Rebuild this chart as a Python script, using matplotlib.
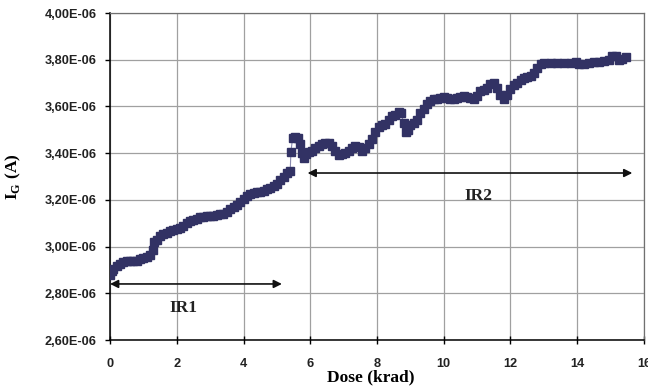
import numpy as np
import matplotlib
matplotlib.use("Agg")
import matplotlib.pyplot as plt
from matplotlib.ticker import FuncFormatter, MultipleLocator

# Gate current vs. accumulated dose (values in units of 1e-6 A)
dose = [
    0.00, 0.05, 0.10, 0.20, 0.30, 0.40, 0.50, 0.60, 0.70, 0.80, 0.90, 1.00,
    1.10, 1.20, 1.28, 1.33, 1.40, 1.50, 1.60, 1.70, 1.80, 1.90, 2.00, 2.10,
    2.20, 2.30, 2.40, 2.50, 2.60, 2.70, 2.80, 2.90, 3.00, 3.10, 3.20, 3.30,
    3.40, 3.50, 3.60, 3.70, 3.80, 3.90, 4.00, 4.10, 4.20, 4.30, 4.40, 4.50,
    4.60, 4.70, 4.80, 4.90, 5.00, 5.10, 5.20, 5.30, 5.40, 5.42, 5.47, 5.55,
    5.62, 5.68, 5.74, 5.80, 5.88, 5.95, 6.05, 6.15, 6.25, 6.35, 6.45, 6.55,
    6.65, 6.75, 6.85, 6.95, 7.05, 7.15, 7.25, 7.35, 7.45, 7.55, 7.65, 7.75,
    7.85, 7.95, 8.05, 8.15, 8.25, 8.35, 8.45, 8.55, 8.65, 8.72, 8.80, 8.86,
    8.92, 9.00, 9.10, 9.20, 9.30, 9.40, 9.50, 9.60, 9.70, 9.80, 9.90, 10.00,
    10.10, 10.20, 10.30, 10.40, 10.50, 10.60, 10.70, 10.80, 10.90, 11.00, 11.10, 11.20,
    11.30, 11.40, 11.50, 11.60, 11.70, 11.80, 11.90, 12.00, 12.10, 12.20, 12.30, 12.40,
    12.50, 12.60, 12.70, 12.80, 12.90, 13.00, 13.20, 13.40, 13.60, 13.80, 13.95, 14.05,
    14.20, 14.35, 14.50, 14.65, 14.80, 14.95, 15.05, 15.15, 15.25, 15.35, 15.45,
]
ig_uA = [
    2.880, 2.895, 2.905, 2.915, 2.925, 2.935, 2.940, 2.940, 2.940, 2.940, 2.945, 2.950,
    2.955, 2.965, 2.985, 3.020, 3.030, 3.045, 3.055, 3.060, 3.065, 3.070, 3.075, 3.080,
    3.090, 3.100, 3.110, 3.115, 3.120, 3.125, 3.128, 3.130, 3.130, 3.132, 3.135, 3.138,
    3.140, 3.150, 3.160, 3.170, 3.180, 3.190, 3.205, 3.215, 3.225, 3.230, 3.235, 3.235,
    3.240, 3.245, 3.250, 3.260, 3.270, 3.285, 3.300, 3.315, 3.325, 3.405, 3.465, 3.470,
    3.465, 3.440, 3.400, 3.380, 3.395, 3.405, 3.410, 3.420, 3.430, 3.440, 3.445, 3.445,
    3.430, 3.410, 3.390, 3.395, 3.400, 3.410, 3.420, 3.430, 3.425, 3.410, 3.420, 3.440,
    3.460, 3.490, 3.510, 3.520, 3.525, 3.540, 3.560, 3.565, 3.575, 3.570, 3.530, 3.490,
    3.500, 3.520, 3.530, 3.540, 3.570, 3.590, 3.610, 3.625, 3.630, 3.630, 3.635, 3.640,
    3.635, 3.630, 3.630, 3.635, 3.640, 3.645, 3.640, 3.635, 3.630, 3.645, 3.665, 3.670,
    3.680, 3.695, 3.700, 3.680, 3.650, 3.630, 3.650, 3.675, 3.690, 3.700, 3.715, 3.720,
    3.725, 3.730, 3.745, 3.765, 3.780, 3.785, 3.785, 3.785, 3.785, 3.785, 3.790, 3.780,
    3.780, 3.785, 3.790, 3.790, 3.795, 3.800, 3.815, 3.815, 3.800, 3.805, 3.810,
]

# Irradiation regions: (start dose, end dose, arrow level, label, label position)
ir1 = (0.0, 5.15, 2.84e-6, "IR1", 2.2, 2.735e-6)
ir2 = (5.92, 15.65, 3.315e-6, "IR2", 11.05, 3.215e-6)

plt.rcParams["mathtext.fontset"] = "custom"
plt.rcParams["mathtext.bf"] = "Liberation Serif:bold"
plt.rcParams["mathtext.rm"] = "Liberation Serif:bold"

fig = plt.figure(figsize=(6.48, 3.87), dpi=100)
ax = fig.add_axes([0.1698, 0.1214, 0.8240, 0.8450])

ax.plot(np.array(dose), np.array(ig_uA) * 1e-6, "-", color="#8a8ab0", lw=0.8,
        marker="s", ms=5.6, mfc="#323264", mec="#323264", zorder=3)

ax.set_xlim(0, 16)
ax.set_ylim(2.6e-6, 4.0e-6)
ax.xaxis.set_major_locator(MultipleLocator(2))
ax.yaxis.set_major_locator(MultipleLocator(0.2e-6))
ax.yaxis.set_major_formatter(FuncFormatter(
    lambda v, p: f"{v / 1e-6:.2f}E-06".replace(".", ",")))
ax.grid(True, color="#a0a0a0", lw=0.9)
ax.set_axisbelow(True)

for side in ("top", "right"):
    ax.spines[side].set_color("#707070")
    ax.spines[side].set_linewidth(0.9)
for side in ("left", "bottom"):
    ax.spines[side].set_color("black")
    ax.spines[side].set_linewidth(1.1)

ax.tick_params(axis="y", direction="out", length=3.6, width=1, pad=6)
ax.tick_params(axis="x", direction="inout", length=6, width=1, pad=10)
for lab in ax.get_xticklabels() + ax.get_yticklabels():
    lab.set_fontfamily("Liberation Sans")
    lab.set_fontweight("bold")
    lab.set_fontsize(9.2)
    lab.set_color("#222222")

ax.set_xlabel("Dose (krad)", fontfamily="Liberation Serif", fontweight="bold",
              fontsize=12.5, labelpad=0)
ax.set_ylabel(r"$\mathbf{I}_{\mathbf{G}}$ (A)", fontfamily="Liberation Serif",
              fontweight="bold", fontsize=12.5)
ax.yaxis.set_label_coords(-0.163, 0.5)
ax.xaxis.set_label_coords(0.488, -0.09)

for x0, x1, yv, txt, tx, ty in (ir1, ir2):
    ax.annotate("", xy=(x1, yv), xytext=(x0, yv),
                arrowprops=dict(arrowstyle="<|-|>", color="#111111", lw=1.2,
                                mutation_scale=12, shrinkA=0, shrinkB=0))
    ax.text(tx, ty, txt, ha="center", va="center", fontfamily="Liberation Serif",
            fontweight="bold", fontsize=12.5, color="#222222")

fig.savefig("out.png", dpi=100)
